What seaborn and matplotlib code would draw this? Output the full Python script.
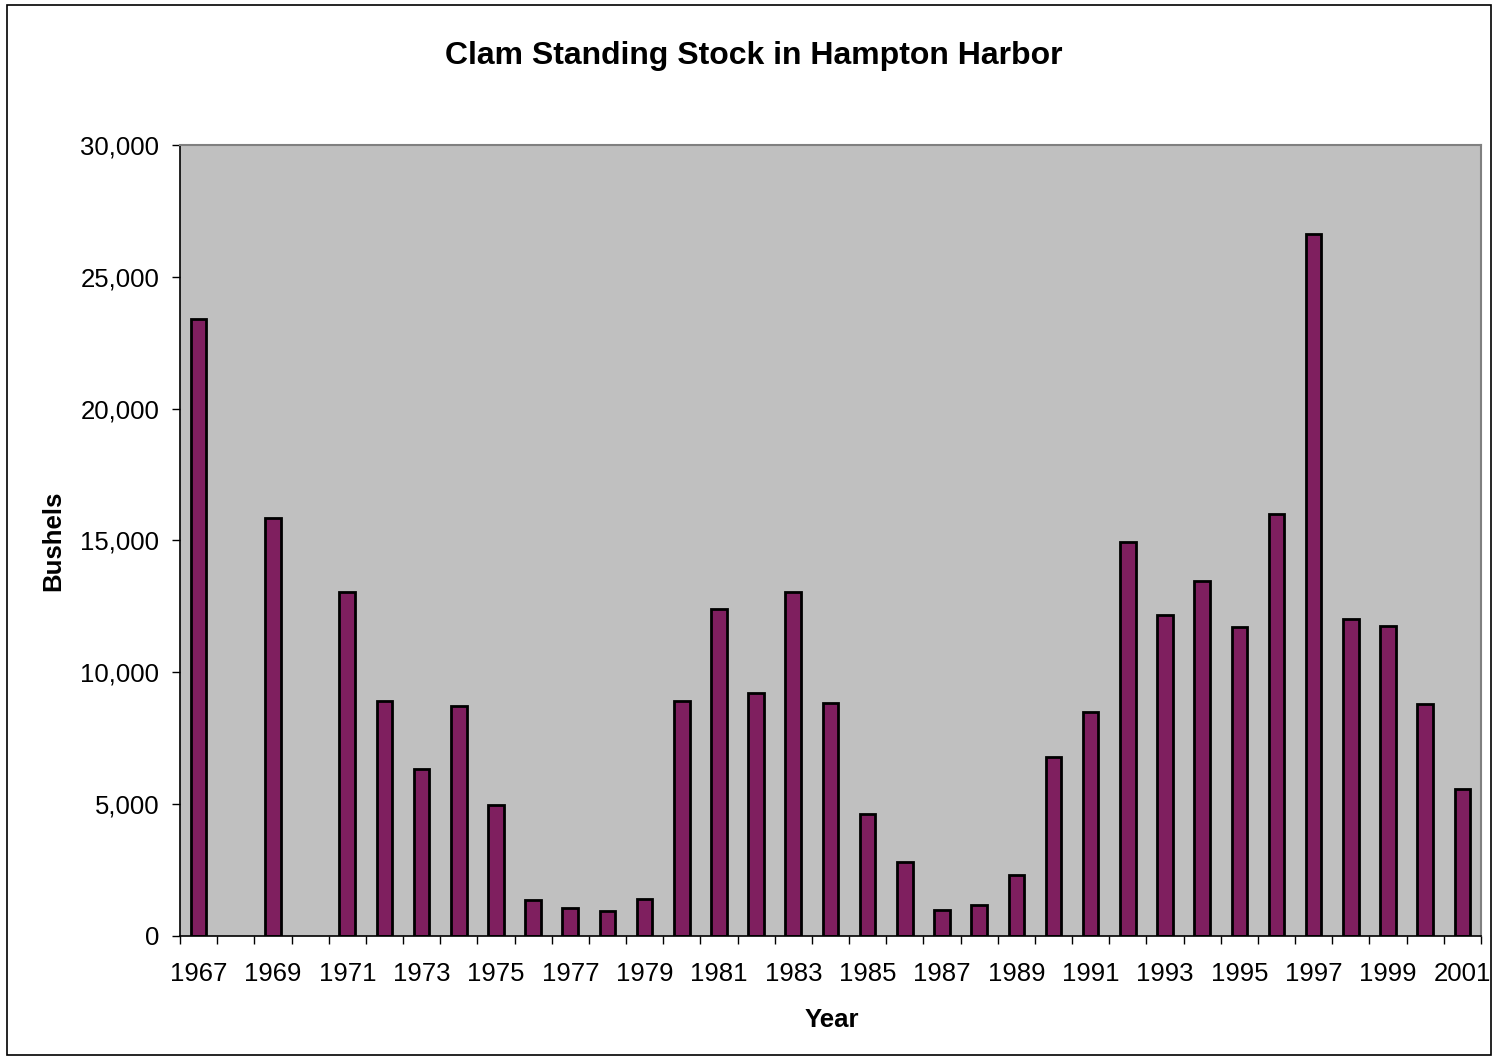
import numpy as np
import pandas as pd
import matplotlib
matplotlib.use("Agg")
import matplotlib.pyplot as plt
import matplotlib.ticker as mticker
from matplotlib.patches import Rectangle
import seaborn as sns

# data (bushels); 1968 and 1970 have no bar
years = [str(y) for y in range(1967, 2002)]
bushels = [23400, np.nan, 15850, np.nan, 13030, 8920, 6320, 8720, 4960, 1370,
           1070, 960, 1410, 8910, 12410, 9230, 13030, 8850, 4640, 2820,
           1000, 1170, 2330, 6780, 8480, 14960, 12170, 13470, 11730, 16020,
           26610, 12010, 11770, 8790, 5560]
y_ticks = [0, 5000, 10000, 15000, 20000, 25000, 30000]

df = pd.DataFrame({"year": years, "bushels": bushels})

sns.set_theme(style="white")
plt.rcParams["font.family"] = ["Liberation Sans", "DejaVu Sans"]
plt.rcParams["text.color"] = "black"
plt.rcParams["axes.labelcolor"] = "black"
plt.rcParams["xtick.color"] = "black"
plt.rcParams["ytick.color"] = "black"

fig = plt.figure(figsize=(14.95, 10.6), dpi=100)
ax = fig.add_axes([0.1204, 0.117, 0.8702, 0.7462])
ax.set_facecolor("#c0c0c0")

sns.barplot(data=df, x="year", y="bushels", order=years, color="#7f1f5f",
            saturation=1, width=0.42, edgecolor="black", linewidth=2, ax=ax)

ax.set_xlim(-0.5, len(years) - 0.5)
ax.set_ylim(0, 30000)
ax.set_yticks(y_ticks)
ax.yaxis.set_major_formatter(mticker.StrMethodFormatter("{x:,.0f}"))

# labels every other year, tick marks at the category edges
ax.set_xticks(range(len(years)))
ax.set_xticklabels([y if i % 2 == 0 else "" for i, y in enumerate(years)])
ax.set_xticks(np.arange(-0.5, len(years), 1), minor=True)
ax.tick_params(axis="x", which="major", length=0, pad=19, labelsize=18.5)
ax.tick_params(axis="x", which="minor", bottom=True, length=6, width=1)
ax.tick_params(axis="y", left=True, length=6, width=1, pad=9, labelsize=18.5)

for side in ["left", "bottom"]:
    ax.spines[side].set_color("black")
    ax.spines[side].set_linewidth(1.2)
for side in ["top", "right"]:
    ax.spines[side].set_color("#808080")
    ax.spines[side].set_linewidth(1.5)

ax.set_xlabel("Year", fontsize=18.5, fontweight="bold")
ax.set_ylabel("Bushels", fontsize=18.5, fontweight="bold")
ax.xaxis.set_label_coords(0.501, -0.091)
ax.yaxis.set_label_coords(-0.088, 0.5)

fig.text(0.504, 0.947, "Clam Standing Stock in Hampton Harbor", ha="center",
         va="center", fontsize=23, fontweight="bold")

fig.patches.append(Rectangle((0.005, 0.005), 0.992, 0.99, transform=fig.transFigure,
                             fill=False, edgecolor="black", linewidth=1.2))

fig.savefig("out.png", dpi=100)
